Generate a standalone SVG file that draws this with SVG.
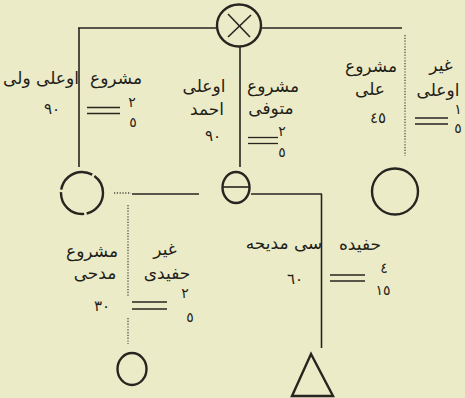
<svg xmlns="http://www.w3.org/2000/svg" width="465" height="398" viewBox="0 0 465 398">
<style>
.ln{stroke:#26251f;stroke-width:1.6;fill:none}
.sh{stroke:#26251f;stroke-width:2.4;fill:none}
.dt{stroke:#4a4940;stroke-width:1.3;stroke-dasharray:1.2 1.6;fill:none}
.eq{stroke:#26251f;stroke-width:1.3}
text{font-family:"DejaVu Sans","Noto Sans",sans-serif;fill:#1f1e18;text-anchor:middle}
.w{font-size:17px}
.n{font-size:15px}
.f{font-size:14px}
</style>
<rect width="465" height="398" fill="#ecebc8"/>
<g id="connectors">
<line class="ln" x1="78" y1="28" x2="216" y2="28"/>
<line class="ln" x1="262" y1="28" x2="402" y2="28"/>
<line class="ln" x1="79" y1="28" x2="79" y2="167"/>
<line class="ln" x1="240" y1="47" x2="240" y2="167"/>
<line class="dt" x1="405" y1="35" x2="405" y2="156"/>
<line class="dt" x1="114" y1="193" x2="131" y2="193"/>
<line class="ln" x1="132" y1="194" x2="199" y2="194"/>
<line class="ln" x1="251" y1="194" x2="322" y2="194"/>
<line class="ln" x1="321.5" y1="194" x2="321.5" y2="348"/>
<line class="dt" x1="128" y1="205" x2="128" y2="297"/>
<line class="dt" x1="128" y1="318" x2="128" y2="344"/>
</g>
<g id="node-top">
<ellipse class="sh" cx="239" cy="25.5" rx="22" ry="21"/>
<line class="ln" x1="228" y1="14" x2="250" y2="37"/>
<line class="ln" x1="251" y1="15" x2="228" y2="37"/>
</g>
<g id="node-left">
<circle class="sh" cx="82" cy="193" r="21" stroke-dasharray="28 2.5 36 2.5 40 2.5 60"/>
</g>
<g id="node-center">
<ellipse class="sh" cx="236" cy="187.5" rx="13.5" ry="15.5"/>
<line class="ln" x1="223" y1="187" x2="249" y2="187"/>
</g>
<g id="node-right">
<circle class="sh" cx="395" cy="191.5" r="23"/>
</g>
<g id="node-bottom-left">
<ellipse class="sh" cx="132" cy="369" rx="14.5" ry="16"/>
</g>
<g id="node-bottom-right">
<polygon class="sh" points="311,354 292,396 333,396"/>
</g>
<g id="label-veli">
<text class="w" x="116" y="84">مشروع</text>
<text class="w" x="41" y="84">اوعلی ولی</text>
<text class="n" x="52" y="114">٩٠</text>
<line class="eq" x1="87" y1="107.5" x2="120" y2="107.5"/>
<line class="eq" x1="87" y1="113.5" x2="120" y2="113.5"/>
<text class="f" x="132" y="107">٢</text>
<text class="f" x="133" y="127">٥</text>
</g>
<g id="label-ahmed">
<text class="w" x="204" y="92">اوعلی</text>
<text class="w" x="207" y="115">احمد</text>
<text class="n" x="213" y="141">٩٠</text>
<text class="w" x="273" y="92">مشروع</text>
<text class="w" x="271" y="114">متوفی</text>
<line class="eq" x1="248" y1="137.5" x2="278" y2="137.5"/>
<line class="eq" x1="248" y1="143.5" x2="278" y2="143.5"/>
<text class="f" x="282" y="136">٢</text>
<text class="f" x="282" y="157">٥</text>
</g>
<g id="label-ali">
<text class="w" x="371" y="72">مشروع</text>
<text class="w" x="370" y="95">علی</text>
<text class="n" x="378" y="123">٤٥</text>
<text class="w" x="441" y="71">غیر</text>
<text class="w" x="438" y="96">اوعلی</text>
<line class="eq" x1="415" y1="118" x2="448" y2="118"/>
<line class="eq" x1="415" y1="124" x2="448" y2="124"/>
<text class="f" x="458" y="114">١</text>
<text class="f" x="458" y="133">٥</text>
</g>
<g id="label-medhi">
<text class="w" x="92" y="257">مشروع</text>
<text class="w" x="95" y="279">مدحی</text>
<text class="n" x="102" y="311">٣٠</text>
<text class="w" x="165" y="255">غیر</text>
<text class="w" x="167" y="279">حفیدی</text>
<line class="eq" x1="132" y1="302" x2="167" y2="302"/>
<line class="eq" x1="132" y1="309" x2="167" y2="309"/>
<text class="f" x="185" y="298">٢</text>
<text class="f" x="190" y="322">٥</text>
</g>
<g id="label-mediha">
<text class="w" x="284" y="249">سی مدیحه</text>
<text class="n" x="295" y="284">٦٠</text>
<text class="w" x="360" y="250">حفیده</text>
<line class="eq" x1="330" y1="275" x2="365" y2="275"/>
<line class="eq" x1="330" y1="281" x2="365" y2="281"/>
<text class="f" x="384" y="273">٤</text>
<text class="f" x="383" y="295">١٥</text>
</g>
</svg>
